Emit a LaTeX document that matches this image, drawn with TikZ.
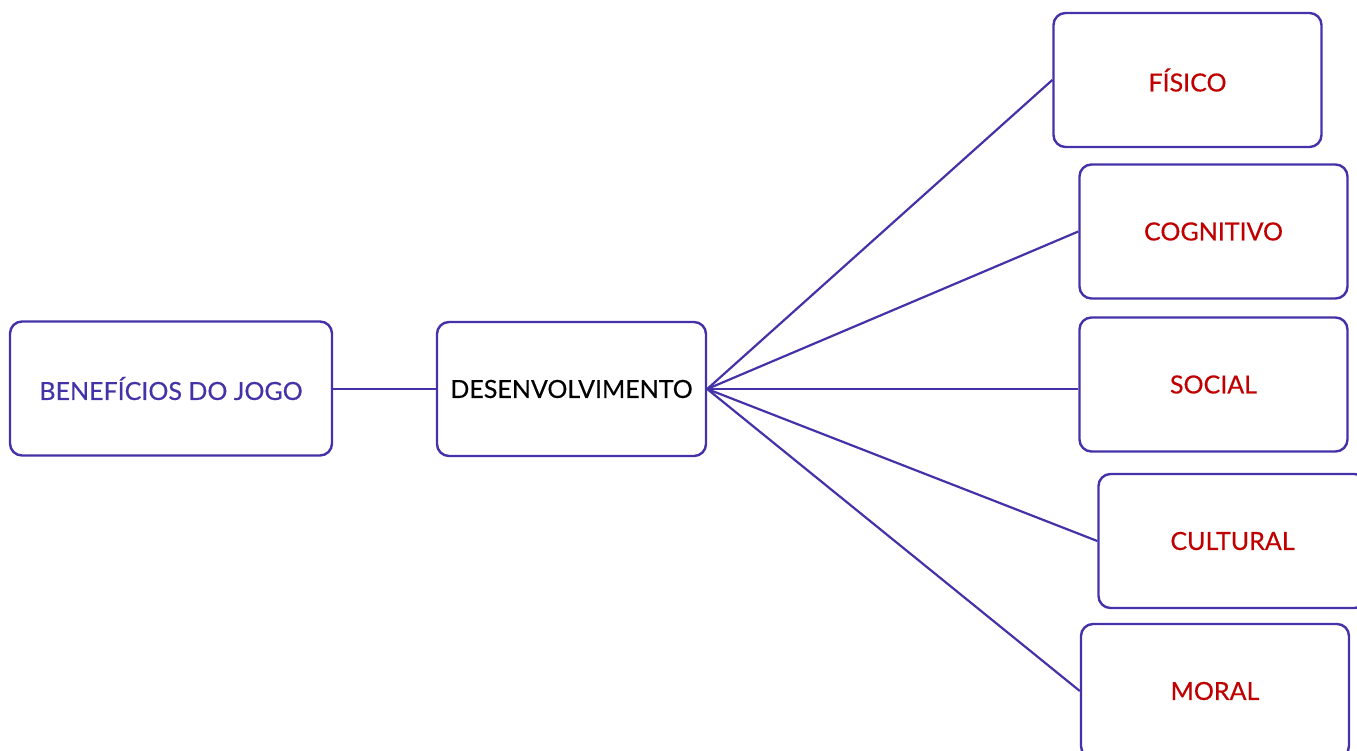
\documentclass[tikz,border=0pt]{standalone}
\usepackage{fontspec}
\setmainfont{Lato}[FakeBold=0.4]
\definecolor{edgepurple}{HTML}{4433A8}
\definecolor{labelred}{HTML}{C00000}
\begin{document}
\begin{tikzpicture}[x=1pt,y=-1pt,
  card/.style={draw=edgepurple, line width=2.4pt, rounded corners=12pt,
    minimum width=268pt, minimum height=134pt, inner sep=0pt,
    font=\fontsize{25}{28}\selectfont},
  link/.style={draw=edgepurple, line width=2.2pt}]
  \useasboundingbox (0,0) rectangle (1357,751);
  \node[card, minimum width=322pt, text=edgepurple] (ben) at (171,388.5) {BENEFÍCIOS DO JOGO};
  \node[card, minimum width=269pt, text=black] (des) at (571.5,389) {DESENVOLVIMENTO};
  \node[card, text=labelred] (fis) at (1187.5,80) {FÍSICO};
  \node[card, text=labelred] (cog) at (1213.5,231.5) {COGNITIVO};
  \node[card, text=labelred] (soc) at (1213.5,384.5) {SOCIAL};
  \node[card, text=labelred] (cul) at (1232.5,541) {CULTURAL};
  \node[card, text=labelred] (mor) at (1215,691) {MORAL};
  \draw[link] (ben.east |- des.west) -- (des.west);
  \draw[link] (des.east) -- (fis.west);
  \draw[link] (des.east) -- (cog.west);
  \draw[link] (des.east) -- (des.east -| soc.west);
  \draw[link] (des.east) -- (cul.west);
  \draw[link] (des.east) -- (mor.west);
\end{tikzpicture}
\end{document}
